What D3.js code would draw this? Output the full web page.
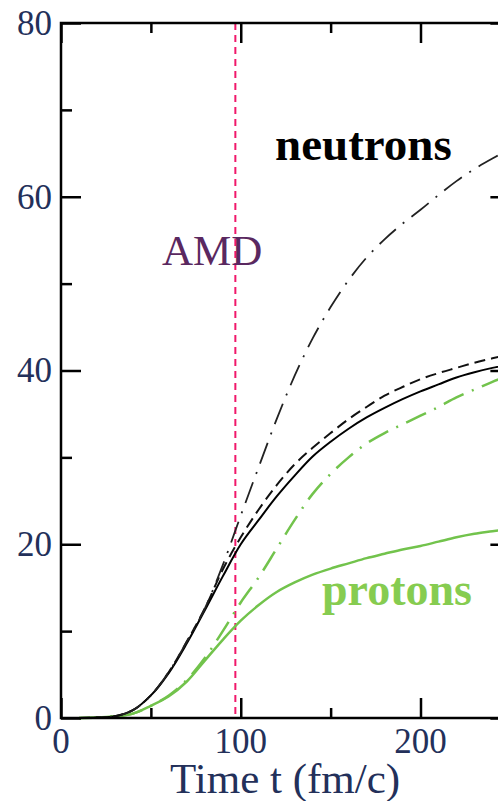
<!DOCTYPE html>
<html>
<head>
<meta charset="utf-8">
<title>AMD neutrons / protons</title>
<script src="https://d3js.org/d3.v7.min.js"></script>
<style>
  body { margin: 0; background: #fff; }
  text { font-family: "Liberation Serif", "Times New Roman", serif; }
</style>
</head>
<body>
<svg id="chart"></svg>
<script>
// time grid (fm/c)
var times = [10, 20, 30, 40, 50, 60, 70, 80, 90, 100, 110, 120, 130, 140, 150, 160, 170, 180, 190, 200, 210, 220, 230, 240, 250];

// neutrons (black)
var neutronSolid   = [0, 0.05, 0.2, 0.9, 2.6, 5.2, 8.6, 12.4, 16.3, 20.0, 22.8, 25.5, 27.9, 30.1, 31.8, 33.3, 34.6, 35.7, 36.7, 37.6, 38.4, 39.2, 39.8, 40.3, 40.7];
var neutronDashed  = [0, 0.05, 0.2, 0.9, 2.6, 5.3, 8.8, 12.6, 17.1, 20.8, 24.0, 26.8, 29.2, 31.1, 32.8, 34.4, 35.8, 37.1, 38.1, 39.0, 39.7, 40.3, 40.9, 41.4, 41.9];
var neutronDashDot = [0, 0.05, 0.2, 0.9, 2.6, 5.3, 8.8, 12.6, 17.6, 23.3, 28.9, 34.4, 39.4, 43.7, 47.3, 50.4, 53.0, 55.1, 56.9, 58.5, 60.2, 61.8, 63.2, 64.4, 65.5];

// protons (green)
var protonSolid   = [0, 0.05, 0.2, 0.5, 1.4, 2.5, 4.2, 6.6, 9.0, 11.2, 13.0, 14.5, 15.6, 16.5, 17.2, 17.8, 18.4, 18.9, 19.4, 19.8, 20.3, 20.8, 21.2, 21.5, 21.8];
var protonDashDot = [0, 0.05, 0.2, 0.5, 1.4, 2.6, 4.4, 6.9, 10.0, 13.3, 16.2, 19.5, 22.8, 25.8, 28.1, 30.0, 31.6, 32.8, 33.8, 34.8, 35.8, 36.9, 37.8, 38.7, 39.5];

var xTicks = [0, 50, 100, 150, 200, 250];
var xLabels = [0, 100, 200];
var yTicks = [0, 10, 20, 30, 40, 50, 60, 70, 80];
var yLabels = [0, 20, 40, 60, 80];
var amdTime = 97;

var W = 498, H = 801;
var plotLeft = 61, plotTop = 23, plotBottom = 718;

var x = d3.scaleLinear().domain([0, 250]).range([plotLeft, plotLeft + 250 * 1.7975]);
var y = d3.scaleLinear().domain([0, 80]).range([plotBottom, plotTop]);

var svg = d3.select("#chart").attr("width", W).attr("height", H);

// dashed AMD line
svg.append("line")
  .attr("x1", x(amdTime)).attr("x2", x(amdTime))
  .attr("y1", y(80)).attr("y2", y(0))
  .attr("stroke", "#f0186a").attr("stroke-width", 2)
  .attr("stroke-dasharray", "7,5");

// curves
var line = d3.line()
  .x(function(d) { return x(d[0]); })
  .y(function(d) { return y(d[1]); })
  .curve(d3.curveCatmullRom.alpha(0.5));

var series = [
  { v: protonSolid,    color: "#72c34c", dash: null,       w: 2.5 },
  { v: protonDashDot,  color: "#72c34c", dash: "22,9,2,9", w: 2.5 },
  { v: neutronSolid,   color: "#000",    dash: null,       w: 2 },
  { v: neutronDashed,  color: "#111",    dash: "11,6",     w: 2 },
  { v: neutronDashDot, color: "#222",    dash: "22,9,2,9", w: 1.8 }
];

series.forEach(function(s) {
  svg.append("path")
    .datum(times.map(function(t, i) { return [t, s.v[i]]; }))
    .attr("fill", "none")
    .attr("stroke", s.color)
    .attr("stroke-width", s.w)
    .attr("stroke-dasharray", s.dash)
    .attr("d", line);
});

// frame
svg.append("rect")
  .attr("x", x(0)).attr("y", y(80))
  .attr("width", x(250) - x(0)).attr("height", y(0) - y(80))
  .attr("fill", "none").attr("stroke", "#000").attr("stroke-width", 2.5);

function tickLen(v, step) { return v % step === 0 ? 20 : 10; }

// x ticks (bottom and top, pointing inward)
var gxb = svg.append("g").attr("transform", "translate(0," + plotBottom + ")")
  .call(d3.axisBottom(x).tickValues(xTicks).tickFormat("").tickSizeOuter(0));
gxb.selectAll(".tick line").attr("y2", function(d) { return -tickLen(d, 100); });
var gxt = svg.append("g").attr("transform", "translate(0," + plotTop + ")")
  .call(d3.axisTop(x).tickValues(xTicks).tickFormat("").tickSizeOuter(0));
gxt.selectAll(".tick line").attr("y2", function(d) { return tickLen(d, 100); });

// y ticks (left and right, pointing inward)
var gyl = svg.append("g").attr("transform", "translate(" + plotLeft + ",0)")
  .call(d3.axisLeft(y).tickValues(yTicks).tickFormat("").tickSizeOuter(0));
gyl.selectAll(".tick line").attr("x2", function(d) { return d % 20 === 0 ? 20 : 11; });
var gyr = svg.append("g").attr("transform", "translate(" + x(250) + ",0)")
  .call(d3.axisRight(y).tickValues(yTicks).tickFormat("").tickSizeOuter(0));
gyr.selectAll(".tick line").attr("x2", function(d) { return d % 20 === 0 ? -20 : -11; });

svg.selectAll(".domain").remove();
svg.selectAll(".tick line").attr("stroke", "#000").attr("stroke-width", 2.5);

// tick labels
svg.append("g").selectAll("text").data(xLabels).enter().append("text")
  .attr("x", function(d) { return x(d); }).attr("y", 753)
  .attr("text-anchor", "middle").attr("font-size", 35).attr("fill", "#23305a")
  .text(function(d) { return d; });

svg.append("g").selectAll("text").data(yLabels).enter().append("text")
  .attr("x", 52).attr("y", function(d) { return y(d); })
  .attr("dy", "0.34em")
  .attr("text-anchor", "end").attr("font-size", 35).attr("fill", "#23305a")
  .text(function(d) { return d; });

// axis title
svg.append("text")
  .attr("x", 170).attr("y", 793)
  .attr("font-size", 43).attr("fill", "#23305a")
  .text("Time t (fm/c)");

// annotations
svg.append("text").attr("x", 162).attr("y", 265)
  .attr("font-size", 43).attr("fill", "#5a2860").text("AMD");
svg.append("text").attr("x", 275).attr("y", 160)
  .attr("font-size", 47).attr("font-weight", "bold").attr("fill", "#000").text("neutrons");
svg.append("text").attr("x", 322).attr("y", 605)
  .attr("font-size", 46).attr("font-weight", "bold").attr("fill", "#86cc50").text("protons");
</script>
</body>
</html>
